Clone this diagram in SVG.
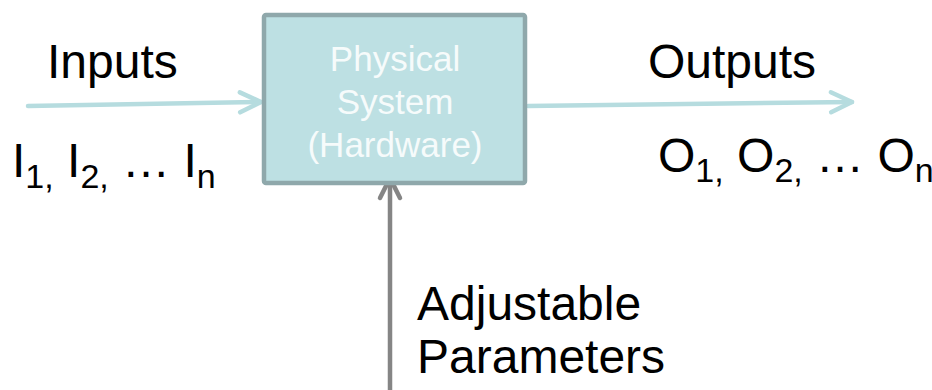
<svg xmlns="http://www.w3.org/2000/svg" width="932" height="390" viewBox="0 0 932 390">
<style>
.lbl{font-family:"Liberation Sans",Arial,sans-serif;font-size:48px;fill:#000}
.box{fill:#bde0e3;stroke:#8fa8ab;stroke-width:4.5}
.boxtxt{font-family:"Liberation Sans",Arial,sans-serif;font-size:35px;fill:#f6fbfb;text-anchor:middle}
.sub{font-size:34px}
.blue{fill:none;stroke:#b6dcdf;stroke-width:4.5;stroke-linecap:round}
.gray{fill:none;stroke:#858585;stroke-width:4.5;stroke-linecap:round}
</style>
<defs>
<marker id="ahBlue" markerUnits="userSpaceOnUse" markerWidth="30" markerHeight="30" viewBox="-25 -15 30 30" refX="0" refY="0" orient="auto">
<path d="M -21 -10 L 0 0 L -21 10" fill="none" stroke="#b6dcdf" stroke-width="4.5" stroke-linecap="round" stroke-linejoin="round"/>
</marker>
<marker id="ahGray" markerUnits="userSpaceOnUse" markerWidth="30" markerHeight="30" viewBox="-25 -15 30 30" refX="0" refY="0" orient="auto">
<path d="M -20 -10 L 0 0 L -20 10" fill="none" stroke="#858585" stroke-width="4.5" stroke-linecap="round" stroke-linejoin="round"/>
</marker>
</defs>
<g id="connectors">
<path class="blue" d="M 28 106 L 261 102" marker-end="url(#ahBlue)"/>
<path class="blue" d="M 528 106 L 852 102" marker-end="url(#ahBlue)"/>
<path class="gray" d="M 390 392 L 390 178" marker-end="url(#ahGray)"/>
</g>
<g id="system">
<rect class="box" x="264" y="15" width="261" height="168" rx="2"/>
<text class="boxtxt" x="395" y="71">Physical</text>
<text class="boxtxt" x="395" y="114">System</text>
<text class="boxtxt" x="395" y="157">(Hardware)</text>
</g>
<g id="inputs">
<text class="lbl" x="47" y="78">Inputs</text>
<text class="lbl" x="12" y="177">I<tspan class="sub" dy="11">1,</tspan><tspan dy="-11"> I</tspan><tspan class="sub" dy="11">2,</tspan><tspan dy="-11"> … I</tspan><tspan class="sub" dy="11">n</tspan></text>
</g>
<g id="outputs">
<text class="lbl" x="648" y="78">Outputs</text>
<text class="lbl" x="658" y="172">O<tspan class="sub" dy="10">1,</tspan><tspan dy="-10"> O</tspan><tspan class="sub" dy="10">2,</tspan><tspan dy="-10"> … O</tspan><tspan class="sub" dy="10">n</tspan></text>
</g>
<g id="parameters">
<text class="lbl" x="417" y="320">Adjustable</text>
<text class="lbl" x="417" y="373">Parameters</text>
</g>
</svg>
